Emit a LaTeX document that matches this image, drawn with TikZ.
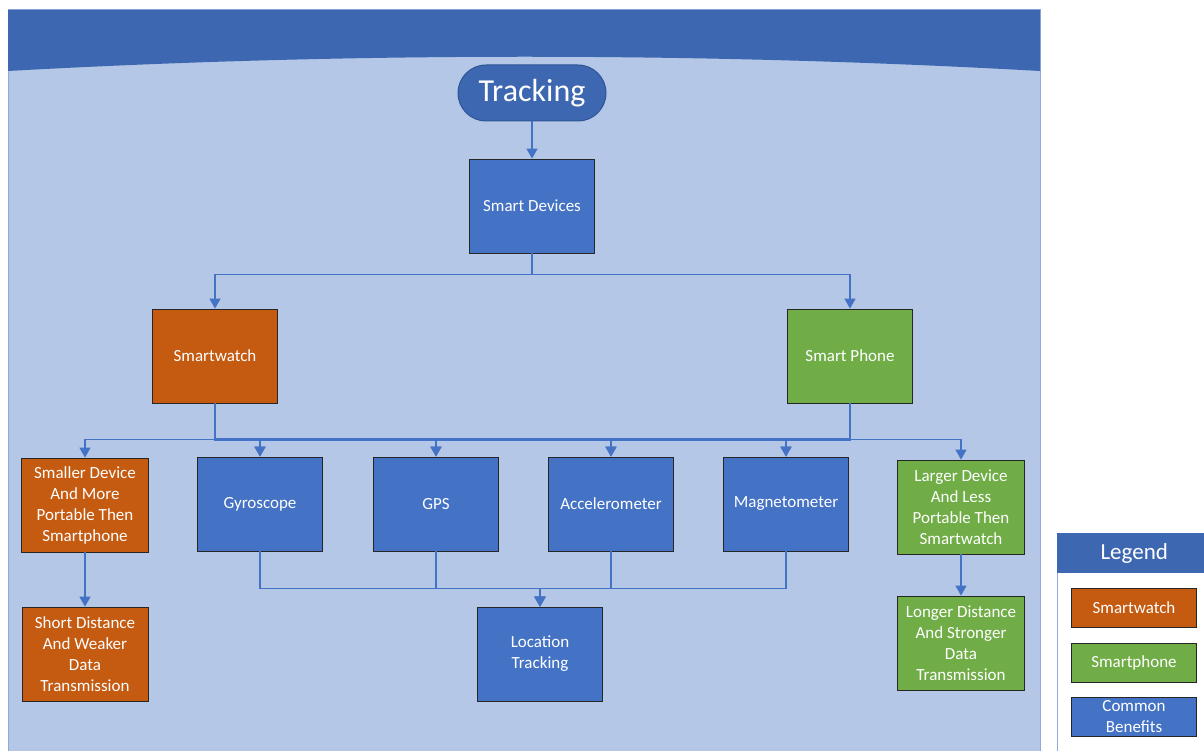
\documentclass[tikz,border=0pt]{standalone}
\usepackage{fontspec}
\setmainfont{Carlito}
\usetikzlibrary{arrows.meta}
\definecolor{pageblue}{HTML}{B4C7E7}
\definecolor{pageedge}{HTML}{8FAADC}
\definecolor{bannerblue}{HTML}{3D67B1}
\definecolor{trackedge}{HTML}{2F5597}
\definecolor{nodeblue}{HTML}{4472C4}
\definecolor{linkblue}{HTML}{4472C4}
\definecolor{watchorange}{HTML}{C55A11}
\definecolor{phonegreen}{HTML}{70AD47}
\definecolor{boxline}{HTML}{262626}

\begin{document}
\begin{tikzpicture}[x=1pt, y=-1pt,
    every node/.style={text=white, font=\fontsize{17}{21}\selectfont, align=center, inner sep=2pt},
    devbox/.style={draw=boxline, line width=0.8pt, minimum width=125pt, minimum height=94pt},
    common/.style={devbox, fill=nodeblue},
    watch/.style={devbox, fill=watchorange},
    phone/.style={devbox, fill=phonegreen},
    keybox/.style={minimum height=39pt},
    tracking/.style={draw=trackedge, line width=1pt, fill=bannerblue, rounded corners=28pt,
        minimum width=148pt, minimum height=56pt, font=\fontsize{32}{34}\selectfont},
    link/.style={draw=linkblue, line width=1.5pt, -{Triangle[width=11pt,length=10pt]}}]

                \useasboundingbox (0,0) rectangle (1204,751);
                \fill[white] (0,0) rectangle (1204,751);
                \fill[pageblue] (8,10) rectangle (1040,751);
                \draw[pageedge, line width=1pt] (8,751) -- (8,10) -- (1040,10) -- (1040,751);
                \fill[bannerblue] (8,10) -- (1040,10) -- (1040,71)
                    .. controls (700,52) and (350,52) .. (8,71) -- cycle;

                \node[tracking] (T) at (532,93) {Tracking};
                \node[common] (DEV) at (532,206) {Smart Devices};

                \node[watch] (SW) at (215,356) {Smartwatch};
                \node[phone] (SP) at (850,356) {Smart Phone};

                \node[watch, minimum width=127pt] (SM) at (85,505) {Smaller Device\\And More\\Portable Then\\Smartphone};
                \node[common] (G1) at (260,504) {Gyroscope};
                \node[common] (G2) at (436,504) {GPS};
                \node[common] (G3) at (611,504) {Accelerometer};
                \node[common] (G4) at (786,504) {Magnetometer};
                \node[phone, minimum width=127pt] (LD) at (961,507) {Larger Device\\And Less\\Portable Then\\Smartwatch};

                \node[watch, minimum width=126pt] (SDT) at (85,654) {Short Distance\\And Weaker\\Data\\Transmission};
                \node[common] (LT) at (540,654) {Location\\Tracking};
                \node[phone, minimum width=127pt] (LDT) at (961,643) {Longer Distance\\And Stronger\\Data\\Transmission};

                \draw[link] (T) -- (DEV);
                \draw[link] (DEV.south) -- ++(0,21) -| (SW.north);
                \draw[link] (DEV.south) -- ++(0,21) -| (SP.north);

                \foreach \c in {SM, G1, G2, G3, G4}
                    \draw[link] (SW.south) -- ++(0,36) -| (\c.north);
                \foreach \c in {G1, G2, G3, G4, LD}
                    \draw[link] (SP.south) -- ++(0,36) -| (\c.north);
                \draw[linkblue, line width=2.5pt] (SW.south) -- ++(0,36) -| (SP.south);

                \foreach \c in {G1, G2, G3, G4}
                    \draw[link] (\c.south) -- ++(0,37) -| (LT.north);
                \draw[link] (SM) -- (SDT);
                \draw[link] (LD) -- (LDT);

                \fill[white] (1057,533) rectangle (1204,751);
                \draw[pageedge, line width=1pt] (1057,751) -- (1057,533) -- (1204,533);
                \node[fill=bannerblue, minimum width=154pt, minimum height=40pt, anchor=north west,
                    font=\fontsize{23}{26}\selectfont] (LG) at (1057,533) {Legend};
                \node[watch, keybox] (K1) at (1134,608) {Smartwatch};
                \node[phone, keybox] (K2) at (1134,663) {Smartphone};
                \node[common, keybox] (K3) at (1134,717) {Common\\Benefits};
            \end{tikzpicture}
\end{document}
